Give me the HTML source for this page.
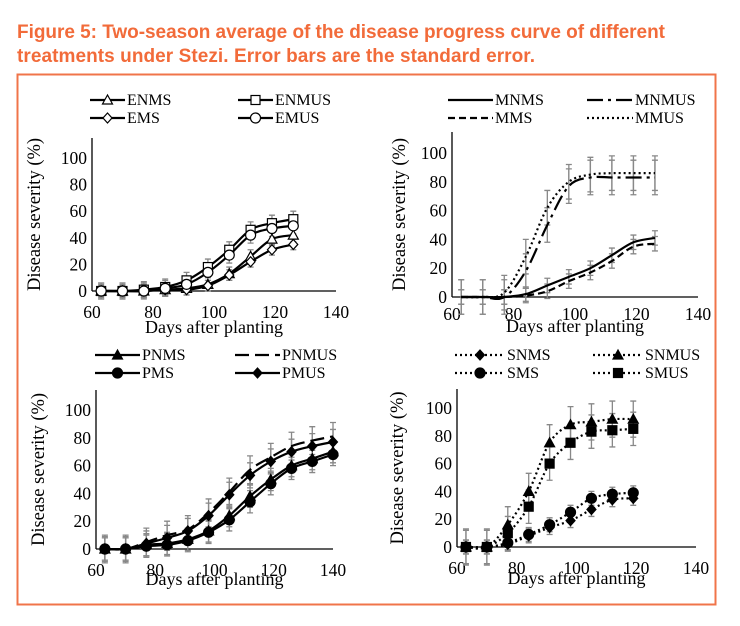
<!DOCTYPE html>
<html><head><meta charset="utf-8"><style>
body{margin:0;background:#fff;width:740px;height:626px;overflow:hidden}
svg{position:absolute;left:0;top:0}
</style></head><body>
<svg id="s" width="740" height="626" xmlns="http://www.w3.org/2000/svg">
<text x="17" y="38" font-family="Liberation Sans,sans-serif" font-weight="bold" font-size="19" fill="#f26b3a" textLength="648">Figure 5: Two-season average of the disease progress curve of different</text>
<text x="17" y="62" font-family="Liberation Sans,sans-serif" font-weight="bold" font-size="19" fill="#f26b3a" textLength="518">treatments under Stezi. Error bars are the standard error.</text>
<rect x="17.5" y="74.5" width="698" height="530" fill="none" stroke="#f0744a" stroke-width="2"/>
<g id="g" font-family="Liberation Serif,serif" font-size="16" fill="#000"></g>
</svg>
<script>
var g=document.getElementById('g'),out='';
function smooth(p){var d='M'+p[0][0]+','+p[0][1];for(var i=0;i<p.length-1;i++){var a=p[i-1]||p[i],b=p[i],c=p[i+1],e=p[i+2]||c;d+=' C'+(b[0]+(c[0]-a[0])/6)+','+(b[1]+(c[1]-a[1])/6)+' '+(c[0]-(e[0]-b[0])/6)+','+(c[1]-(e[1]-b[1])/6)+' '+c[0]+','+c[1];}return d;}
function marker(t,x,y,fill){var f=fill?'#000':'#fff';
 if(t=='tri')return '<polygon points="'+x+','+(y-5)+' '+(x-5)+','+(y+4)+' '+(x+5)+','+(y+4)+'" fill="'+f+'" stroke="#000" stroke-width="1.2"/>';
 if(t=='sq')return '<rect x="'+(x-4.5)+'" y="'+(y-4.5)+'" width="9" height="9" fill="'+f+'" stroke="#000" stroke-width="1.2"/>';
 if(t=='dia')return '<polygon points="'+x+','+(y-5)+' '+(x+4.5)+','+y+' '+x+','+(y+5)+' '+(x-4.5)+','+y+'" fill="'+f+'" stroke="#000" stroke-width="1.2"/>';
 if(t=='cir')return '<circle cx="'+x+'" cy="'+y+'" r="5" fill="'+f+'" stroke="#000" stroke-width="1.2"/>';
 return '';}
function panel(P){
 var X=function(d){return P.x0+(d-60)*(P.x1-P.x0)/80},Y=function(v){return P.y0-v*(P.y0-P.y100)/100};
 out+='<line x1="'+P.x0+'" y1="'+P.top+'" x2="'+P.x0+'" y2="'+P.y0+'" stroke="#000" stroke-width="1.3"/>';
 out+='<line x1="'+P.x0+'" y1="'+P.y0+'" x2="'+P.x1+'" y2="'+P.y0+'" stroke="#000" stroke-width="1.3"/>';
 for(var v=0;v<=100;v+=20){out+='<text x="'+(P.x0-5)+'" y="'+(Y(v)+6)+'" text-anchor="end" font-size="17.5">'+v+'</text>';}
 for(var d=60;d<=140;d+=20){out+='<text x="'+X(d)+'" y="'+P.xl+'" text-anchor="middle" font-size="17.5">'+d+'</text>';}
 out+='<text x="'+((P.x0+P.x1)/2)+'" y="'+P.xt+'" text-anchor="middle" font-size="18">Days after planting</text>';
 var cy=(P.top+P.y0)/2;
 out+='<text transform="translate('+P.yt+','+cy+') rotate(-90)" text-anchor="middle" font-size="18.5">Disease severity (%)</text>';
 P.s.forEach(function(s){
  s.v.forEach(function(v,i){var x=X(s.d[i]);var e=s.e;out+='<path d="M'+x+','+Y(v-e)+'V'+Y(v+e)+'M'+(x-3)+','+Y(v-e)+'h6M'+(x-3)+','+Y(v+e)+'h6" stroke="#888" stroke-width="1.3" fill="none"/>';});
 });
 P.s.forEach(function(s){
  var pts=s.v.map(function(v,i){return [X(s.d[i]),Y(v)]});
  out+='<path d="'+smooth(pts)+'" fill="none" stroke="#000" stroke-width="'+(s.w||2.2)+'" stroke-dasharray="'+(s.da||'none')+'"/>';
  pts.forEach(function(p){out+=marker(s.m,p[0],p[1],s.f)});
  var L=s.leg;out+='<line x1="'+L[0]+'" y1="'+L[2]+'" x2="'+L[1]+'" y2="'+L[2]+'" stroke="#000" stroke-width="'+(s.w||2.2)+'" stroke-dasharray="'+(s.da||'none')+'"/>'+marker(s.m,(L[0]+L[1])/2,L[2],s.f)+'<text x="'+(L[1]+2)+'" y="'+(L[2]+5)+'">'+s.n+'</text>';
 });
}
var D1=[63,70,77,84,91,98,105,112,119,126];
panel({x0:92,x1:336,y0:291,y100:158,top:138,xl:318,xt:333,yt:40,s:[
 {n:'ENMS',m:'tri',d:D1,v:[0,0,0,1,2,5,13,26,39,42],e:5,leg:[90,125,100]},
 {n:'ENMUS',m:'sq',d:D1,v:[0,0,1,3,8,18,31,46,51,54],e:6,leg:[238,273,100]},
 {n:'EMS',m:'dia',d:D1,v:[0,0,0,1,1,4,12,22,31,35],e:4,leg:[90,125,118]},
 {n:'EMUS',m:'cir',d:D1,v:[0,0,0,2,5,14,27,42,47,49],e:6,leg:[238,273,118]}]});
panel({x0:452,x1:698,y0:297,y100:153,top:132,xl:320,xt:332,yt:405,s:[
 {n:'MNMS',d:D1,v:[0,0,0,2,8,14,20,29,38,41],e:5,leg:[448,493,100]},
 {n:'MNMUS',d:D1,v:[0,0,0,18,50,77,83,83,83,83],e:12,da:'16,5,3,5',leg:[587,633,100]},
 {n:'MMS',d:D1,v:[0,0,0,1,4,11,17,25,35,37],e:5,da:'7,4',leg:[448,493,118]},
 {n:'MMUS',d:D1,v:[0,0,3,28,62,80,85,86,86,86],e:12,da:'2,3',leg:[587,633,118]}]});
var D3=[63,70,77,84,91,98,105,112,119,126,133,140];
panel({x0:96,x1:333,y0:549,y100:410,top:390,xl:576,xt:585,yt:44,s:[
 {n:'PNMS',m:'tri',f:1,d:D3,v:[0,0,3,4,7,13,24,38,50,60,65,70],e:8,leg:[95,140,355]},
 {n:'PNMUS',d:D3,v:[0,0,5,10,14,26,41,57,66,74,78,81],e:10,da:'14,6',leg:[235,280,355]},
 {n:'PMS',m:'cir',f:1,d:D3,v:[0,0,2,3,6,12,21,34,47,58,63,68],e:8,leg:[95,140,373]},
 {n:'PMUS',m:'dia',f:1,d:D3,v:[0,0,4,8,13,24,39,53,63,70,74,77],e:9,leg:[235,280,373]}]});
var D4=[63,70,77,84,91,98,105,112,119];
panel({x0:457,x1:696,y0:547,y100:408,top:389,xl:574,xt:584,yt:403,s:[
 {n:'SNMS',m:'dia',f:1,d:D4,v:[0,0,2,8,14,19,27,34,35],e:5,da:'2,3',leg:[455,505,355]},
 {n:'SNMUS',m:'tri',f:1,d:D4,v:[0,0,16,40,75,88,90,92,92],e:13,da:'2,3',leg:[593,643,355]},
 {n:'SMS',m:'cir',f:1,d:D4,v:[0,0,3,9,16,25,35,38,39],e:5,da:'2,3',leg:[455,505,373]},
 {n:'SMUS',m:'sq',f:1,d:D4,v:[0,0,10,29,60,75,83,84,85],e:12,da:'2,3',leg:[593,643,373]}]});
g.innerHTML=out;
</script>
</body></html>
